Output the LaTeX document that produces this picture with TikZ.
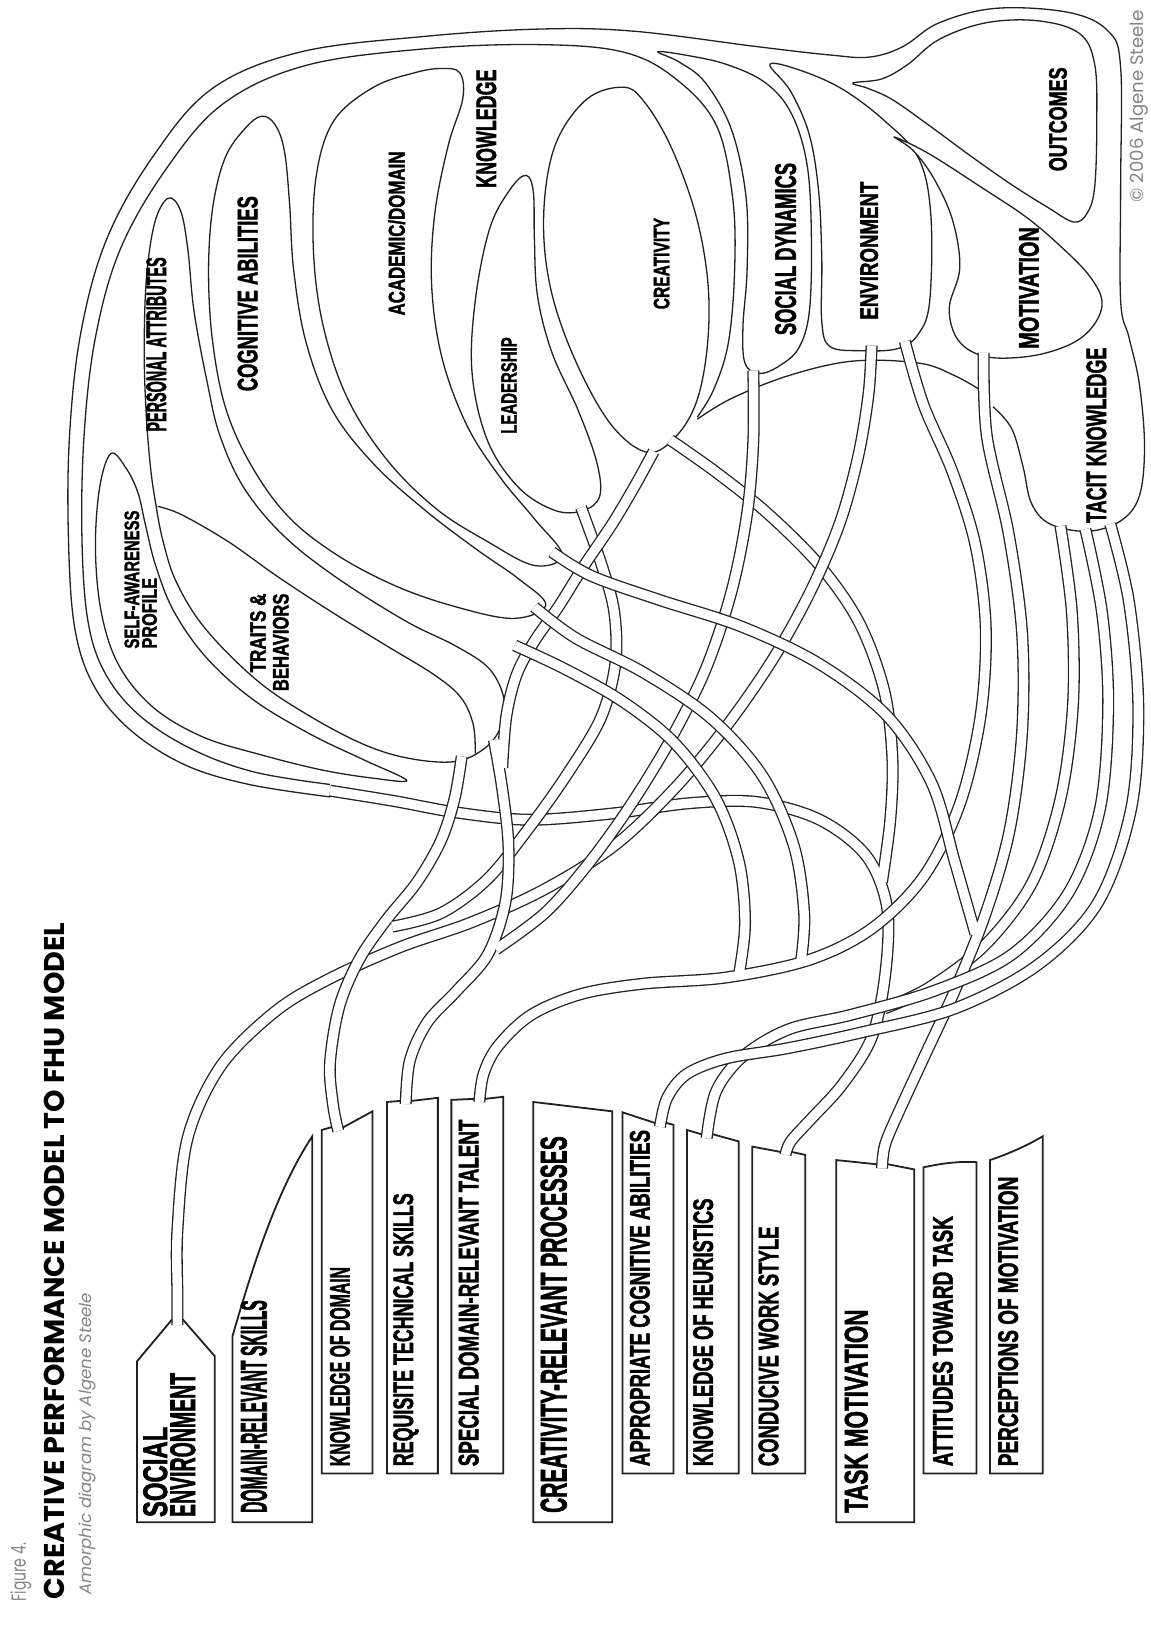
\documentclass[tikz,border=0pt]{standalone}
\usepackage{fontspec}
\usepackage{graphicx}
\setmainfont{Liberation Sans}
\newfontfamily\lbf{Liberation Sans}[BoldFeatures={FakeBold=2}]
\newfontfamily\pop{Poppins}
\newlength\su
\setlength\su{0.51895pt}
% label text squeezed to a measured length and cap height
\newcommand\fitt[3]{\resizebox{#1\su}{#2\su}{\lbf\bfseries #3}}
\newcommand\fitw[2]{\resizebox{#1\su}{!}{#2}}
% a tube is a wide dark stroke with a white core
\newcommand\TubeO[1]{\draw[tubeo] plot[smooth,tension=0.55] coordinates {#1};}
\newcommand\TubeI[1]{\draw[tubei] plot[smooth,tension=0.55] coordinates {#1};}
\newcommand\TO[1]{\expandafter\TubeO\expandafter{#1}}
\newcommand\TI[1]{\expandafter\TubeI\expandafter{#1}}
\definecolor{ink}{gray}{0.13}
\definecolor{note}{gray}{0.52}

% tube centre lines
\def\pW{(318,762) (380,772) (440,783) (510,790) (590,784) (665,774) (730,773) (790,790) (835,825) (855,875) (853,940) (840,1000) (812,1045) (782,1078) (762,1100) (757,1113)}
\def\pTa{(1022,507) (1033,590) (1034,680) (1022,770) (995,850) (950,910) (895,952) (852,972)}
\def\pCrd{(646,424) (690,455) (740,495) (790,545) (828,600) (852,665) (860,730) (858,790) (850,850)}
\def\pEa{(840,333) (837,380) (827,440) (809,505) (781,570) (745,635) (700,700) (650,760) (592,815) (523,858) (454,889) (385,913) (316,944) (265,975) (213,1027) (181,1096) (171,1185) (171,1250) (171,1277)}
\def\pKod{(445,729) (438,770) (425,810) (402,850) (372,887) (346,925) (327,970) (318,1025) (321,1065) (326,1090)}
\def\pLd{(560,489) (580,545) (592,590) (593,640) (579,692) (548,744) (512,795) (470,847) (425,880) (378,893)}
\def\pReq{(476,713) (484,760) (490,815) (487,870) (470,920) (440,955) (412,985) (395,1022) (391,1064)}
\def\pSd{(726,357) (726,425) (720,495) (705,570) (680,645) (645,715) (605,780) (565,835) (525,880) (478,915)}
\def\pCrl{(630,435) (612,468) (590,505) (563,545) (538,585) (515,618) (498,650) (488,690) (484,740)}
\def\pEb{(872,329) (890,390) (918,455) (940,525) (950,605) (945,690) (925,775) (890,845) (840,895) (780,925) (700,942) (620,948) (560,958) (512,978) (480,1008) (466,1035) (462,1062)}
\def\pXb{(515,585) (555,615) (620,648) (685,692) (735,748) (765,815) (775,880) (772,926)}
\def\pXc{(496,622) (545,645) (600,676) (650,716) (690,770) (712,830) (718,890) (712,940)}
\def\pMot{(948,340) (951,420) (972,514) (985,610) (985,706) (973,800) (950,880) (920,955) (890,1020) (866,1072) (853,1103) (850,1126)}
\def\pXa{(532,532) (570,555) (635,578) (715,604) (790,640) (855,690) (898,755) (920,830) (940,900)}
\def\pTb{(1046,510) (1062,590) (1068,680) (1060,780) (1030,860) (975,920) (900,955) (820,978) (760,992) (716,1018) (690,1052) (681,1097)}
\def\pTc{(1070,505) (1088,580) (1097,680) (1090,780) (1058,870) (1000,930) (920,972) (830,995) (760,1010) (700,1020) (662,1035) (643,1058) (636,1086)}

\begin{document}
\begin{tikzpicture}[x=0.51895pt,y=-0.51895pt,
  ln/.style={draw=ink, line width=0.65pt},
  blob/.style={draw=ink, fill=white, line width=0.65pt},
  boxs/.style={draw=ink, fill=white, line width=0.9pt, line join=miter},
  tubeo/.style={draw=ink, line width=6pt},
  tubei/.style={draw=white, line width=4.7pt},
  lab/.style={rotate=90, anchor=base west, inner sep=0pt, outer sep=0pt}]

\useasboundingbox (0,0) rectangle (1109,1568);
\fill[white] (0,0) rectangle (1109,1568);

% ---------- outer contour and inner band line ----------
\draw[ln] plot[smooth,tension=0.6] coordinates {(318,768) (240,756) (178,737) (125,703) (90,660) (72,605) (66,520) (67,420) (78,320) (103,230) (148,150) (205,85) (290,50) (410,35) (520,28) (610,30) (730,45) (800,53) (838,55) (870,45) (905,22) (960,8) (1030,12) (1068,30) (1080,65) (1080,180) (1080,290) (1088,325) (1098,370) (1103,430) (1098,478) (1080,502) (1048,512) (1012,505) (994,485) (986,450) (975,413) (957,392)};
\draw[ln] plot[smooth,tension=0.6] coordinates {(318,756) (245,744) (185,722) (135,690) (102,650) (85,600) (79,520) (81,420) (92,325) (116,240) (160,163) (215,100) (295,63) (410,47) (520,43) (600,50) (650,75) (690,120) (706,190) (708,260) (702,330) (688,375) (672,402)};
\draw[ln] plot[smooth,tension=0.6] coordinates {(672,404) (705,384) (760,362) (822,348) (886,350) (920,362) (945,376)};

% ---------- blobs ----------
\draw[blob] plot[smooth cycle,tension=0.6] coordinates {(107,437) (122,452) (133,475) (140,505) (150,545) (168,590) (200,635) (245,675) (300,708) (350,732) (392,752) (360,750) (310,742) (250,727) (195,710) (148,682) (115,642) (98,592) (92,530) (96,470)};
\draw[blob] plot[smooth cycle,tension=0.6] coordinates {(162,191) (174,203) (181,240) (187,300) (200,370) (212,420) (235,470) (272,515) (322,555) (390,598) (440,623) (472,645) (486,675) (482,702) (466,722) (438,734) (395,731) (352,718) (300,691) (248,656) (198,606) (170,561) (157,521) (150,485) (145,450) (141,400) (139,340) (141,270) (149,215)};
\draw[ln] plot[smooth,tension=0.6] coordinates {(152,488) (175,496) (220,522) (268,556) (320,590) (372,622) (418,650) (444,672) (456,698) (458,726)};
\draw[blob] plot[smooth cycle,tension=0.6] coordinates {(252,112) (265,120) (274,145) (279,195) (283,260) (295,330) (320,395) (360,447) (410,492) (460,530) (500,558) (526,583) (495,596) (440,585) (382,565) (325,535) (278,498) (243,450) (218,395) (205,330) (201,262) (205,200) (217,152) (236,124)};
\draw[blob] plot[smooth cycle,tension=0.6] coordinates {(425,66) (443,70) (446,95) (432,140) (419,206) (416,275) (426,345) (450,410) (482,460) (515,500) (542,535) (515,545) (470,522) (420,490) (372,442) (334,382) (311,312) (302,240) (305,168) (322,116) (360,84) (400,70)};
\draw[blob] plot[smooth cycle,tension=0.6] coordinates {(507,169) (514,185) (515,230) (518,285) (532,340) (557,395) (575,445) (578,478) (562,492) (535,492) (500,470) (470,425) (455,360) (458,290) (472,220) (492,182)};
\draw[blob] plot[smooth cycle,tension=0.6] coordinates {(600,84) (565,96) (535,140) (524,206) (530,275) (553,344) (588,408) (624,436) (652,420) (672,385) (682,330) (682,270) (670,205) (646,140) (620,97)};
\draw[blob] plot[smooth cycle,tension=0.6] coordinates {(634,50) (660,53) (700,62) (738,80) (763,110) (778,160) (782,230) (780,300) (770,335) (752,352) (732,360) (718,350) (716,315) (720,260) (719,190) (705,125) (680,80) (655,60)};
\draw[blob] plot[smooth cycle,tension=0.6] coordinates {(742,62) (772,68) (812,86) (852,116) (885,152) (897,206) (896,290) (885,322) (865,336) (830,338) (800,334) (792,310) (792,250) (789,185) (780,130) (762,88)};
\draw[blob] plot[smooth cycle,tension=0.6] coordinates {(822,80) (850,76) (875,62) (905,38) (950,22) (1000,20) (1040,32) (1055,62) (1057,120) (1055,180) (1048,205) (1035,214) (1010,200) (975,178) (935,150) (897,122) (860,96) (836,85)};
\draw[blob] plot[smooth cycle,tension=0.6] coordinates {(862,132) (895,148) (945,180) (990,210) (1025,240) (1050,266) (1062,290) (1055,312) (1035,330) (1000,342) (960,345) (935,338) (920,322) (915,295) (925,258) (918,212) (900,172) (880,145)};

% ---------- boxes ----------
\draw[boxs] (132,1467) -- (132,1312) -- (165.5,1272) -- (176.5,1272) -- (207,1307) -- (207,1467) -- cycle;
\draw[boxs] (224,1467) -- (224,1288) .. controls (245,1215) and (268,1145) .. (301,1095) -- (301,1467) -- cycle;
\draw[boxs] (310,1420) -- (310,1089) -- (320.5,1086) -- (331.5,1086) -- (359,1071) -- (359,1420) -- cycle;
\draw[boxs] (373,1420) -- (373,1062) -- (385.5,1061) -- (396.5,1061) -- (422,1058) -- (422,1420) -- cycle;
\draw[boxs] (435,1420) -- (435,1060) -- (456.5,1059) -- (467.5,1059) -- (485,1057) -- (485,1420) -- cycle;
\draw[boxs] (514,1467) -- (514,1062) -- (590,1071) -- (590,1467) -- cycle;
\draw[boxs] (600,1420) -- (600,1072) -- (630.5,1082) -- (641.5,1082) -- (649,1084) -- (649,1420) -- cycle;
\draw[boxs] (662,1420) -- (662,1089) -- (675.5,1093) -- (686.5,1093) -- (712,1100) -- (712,1420) -- cycle;
\draw[boxs] (725,1420) -- (725,1105) -- (751.5,1110) -- (762.5,1110) -- (776,1113) -- (776,1420) -- cycle;
\draw[boxs] (806,1467) -- (806,1118) -- (844.5,1122) -- (855.5,1122) -- (881,1127) -- (881,1467) -- cycle;
\draw[boxs] (890,1420) -- (890,1125) .. controls (908,1121) and (925,1119) .. (941,1120) -- (941,1420) -- cycle;
\draw[boxs] (954,1420) -- (954,1118) .. controls (972,1112) and (990,1104) .. (1005,1095) -- (1005,1420) -- cycle;

% ---------- tubes ----------
\TO{\pW}\TO{\pTa}\TO{\pCrd}\TI{\pW}\TI{\pTa}\TI{\pCrd}
\TO{\pEa}\TI{\pEa}
\TO{\pKod}\TO{\pLd}\TI{\pKod}\TI{\pLd}
\TO{\pReq}\TO{\pSd}\TO{\pCrl}\TI{\pReq}\TI{\pSd}\TI{\pCrl}
\TO{\pEb}\TO{\pXb}\TO{\pXc}\TI{\pEb}\TI{\pXb}\TI{\pXc}
\TO{\pMot}\TO{\pXa}\TI{\pMot}\TI{\pXa}
\TO{\pTb}\TI{\pTb}
\TO{\pTc}\TI{\pTc}

% ---------- box labels ----------
\node[lab] (soc1) at (161,1462) {\fitt{87}{23}{SOCIAL}};
\node[lab] (soc2) at (188,1462) {\fitt{139}{24}{ENVIRONMENT}};
\node[lab] (drs) at (257,1458) {\fitt{205}{25}{DOMAIN-RELEVANT SKILLS}};
\node[lab] (kod) at (337,1413) {\fitt{192}{19}{KNOWLEDGE OF DOMAIN}};
\node[lab] (rts) at (398,1413) {\fitt{263}{19}{REQUISITE TECHNICAL SKILLS}};
\node[lab] (sdt) at (461,1413) {\fitt{334}{19}{SPECIAL DOMAIN-RELEVANT TALENT}};
\node[lab] (crp) at (546,1458) {\fitt{363}{25}{CREATIVITY-RELEVANT PROCESSES}};
\node[lab] (aca) at (626,1413) {\fitt{324}{19}{APPROPRIATE COGNITIVE ABILITIES}};
\node[lab] (koh) at (687,1413) {\fitt{258}{19}{KNOWLEDGE OF HEURISTICS}};
\node[lab] (cws) at (750,1413) {\fitt{231}{19}{CONDUCIVE WORK STYLE}};
\node[lab] (tm) at (836,1458) {\fitt{196}{22}{TASK MOTIVATION}};
\node[lab] (att) at (918,1413) {\fitt{241}{19}{ATTITUDES TOWARD TASK}};
\node[lab] (pom) at (981,1413) {\fitt{279}{19}{PERCEPTIONS OF MOTIVATION}};

% ---------- blob labels ----------
\node[lab] (sa1) at (134,625) {\fitt{133}{14}{SELF-AWARENESS}};
\node[lab] (sa2) at (151,625) {\fitt{68}{14}{PROFILE}};
\node[lab] (tb1) at (256,648) {\fitt{76}{15}{TRAITS \&}};
\node[lab] (tb2) at (278,666) {\fitt{94}{15}{BEHAVIORS}};
\node[lab] (pa) at (160,416) {\fitt{168}{19}{PERSONAL ATTRIBUTES}};
\node[lab] (ca) at (248,377) {\fitt{188}{19}{COGNITIVE ABILITIES}};
\node[lab] (ad) at (390,304) {\fitt{158}{16}{ACADEMIC/DOMAIN}};
\node[lab] (kn) at (478,181) {\fitt{114}{19}{KNOWLEDGE}};
\node[lab] (ld) at (498,418) {\fitt{93}{15}{LEADERSHIP}};
\node[lab] (cr) at (645,298) {\fitt{88}{15}{CREATIVITY}};
\node[lab] (sd) at (767,323) {\fitt{166}{20}{SOCIAL DYNAMICS}};
\node[lab] (en) at (846,308) {\fitt{133}{17}{ENVIRONMENT}};
\node[lab] (mo) at (1001,336) {\fitt{117}{19}{MOTIVATION}};
\node[lab] (oc) at (1028,165) {\fitt{100}{17}{OUTCOMES}};
\node[lab] (tk) at (1066,504) {\fitt{169}{19}{TACIT KNOWLEDGE}};

% ---------- title block ----------
\node[lab] (fig) at (25,1543) {\resizebox{56\su}{15\su}{\color{note}\pop Figure 4.}};
\node[lab] (title) at (62,1541) {\fitw{652}{\pop\bfseries CREATIVE PERFORMANCE MODEL TO FHU MODEL}};
\node[lab] (sub) at (88,1537) {\fitw{291}{\color{note}\pop\itshape Amorphic diagram by Algene Steele}};
\node[lab] (copy) at (1102,195) {\fitw{185}{\color{note}\pop \textcopyright\ 2006 Algene Steele}};
\end{tikzpicture}
\end{document}
